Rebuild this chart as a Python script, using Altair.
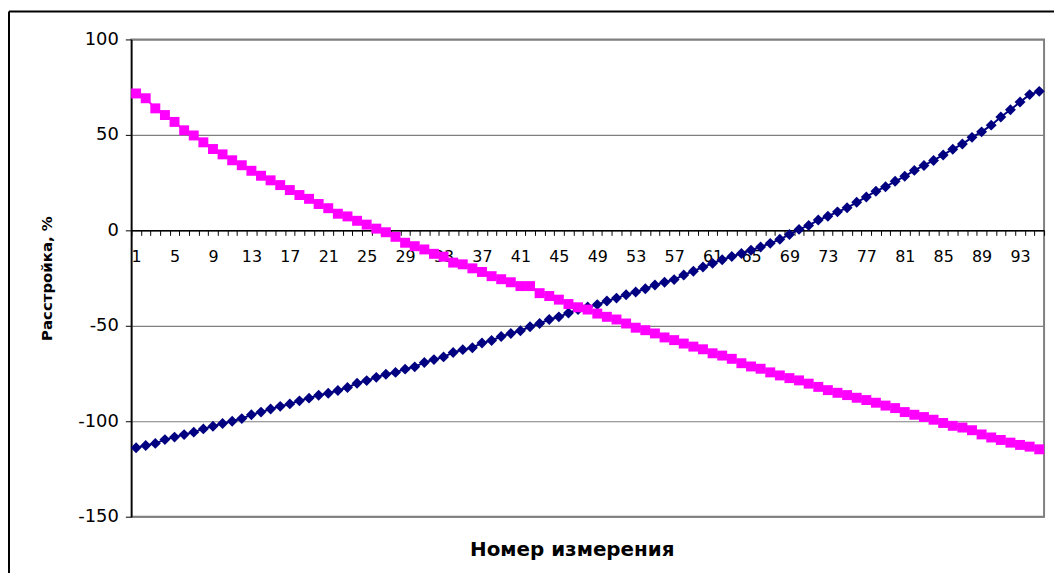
import altair as alt
import pandas as pd

n_idx = list(range(1, 96))

series_a = [-113.9, -112.7, -111.6, -109.6, -108.3, -107.0, -105.7, -104.0, -102.6, -101.2,
            -100.0, -98.6, -96.6, -95.2, -93.6, -92.2, -90.9, -89.3, -87.9, -86.4,
            -85.3, -83.9, -82.3, -80.1, -78.7, -77.0, -75.4, -74.4, -72.7, -71.5,
            -69.2, -67.7, -66.3, -64.0, -62.5, -61.5, -59.0, -57.7, -55.6, -54.0,
            -52.6, -50.5, -48.8, -46.7, -45.3, -43.3, -41.5, -40.1, -38.9, -37.0,
            -35.5, -33.7, -32.3, -30.6, -28.6, -27.2, -25.8, -23.4, -21.4, -19.2,
            -17.3, -15.4, -13.7, -12.1, -10.4, -8.7, -6.8, -4.7, -2.2, 0.5,
            2.6, 5.4, 7.4, 9.7, 11.8, 14.7, 17.5, 20.5, 22.8, 25.7,
            28.3, 31.4, 34.0, 36.6, 39.5, 42.5, 45.2, 48.7, 51.6, 55.1,
            59.4, 63.2, 67.2, 71.1, 72.8]

series_b = [71.7, 69.2, 63.9, 60.4, 56.8, 52.4, 49.7, 46.1, 42.6, 39.8,
            36.7, 34.1, 31.2, 28.6, 26.2, 23.7, 21.1, 18.5, 16.5, 13.8,
            11.6, 8.7, 7.3, 5.0, 3.0, 0.9, -1.0, -3.4, -6.5, -8.3,
            -10.0, -12.3, -13.8, -16.9, -17.8, -19.9, -21.8, -24.0, -25.6, -27.2,
            -29.2, -29.2, -32.9, -34.4, -36.3, -38.6, -40.3, -41.5, -43.6, -45.3,
            -46.7, -48.8, -51.0, -52.3, -54.0, -56.1, -57.5, -59.3, -60.9, -62.3,
            -64.4, -65.6, -67.3, -69.6, -71.3, -72.5, -74.4, -76.0, -77.4, -78.6,
            -80.3, -82.0, -83.7, -85.1, -86.3, -87.7, -88.9, -90.3, -91.8, -93.1,
            -95.2, -96.6, -97.8, -99.2, -100.9, -102.4, -103.3, -104.7, -106.9, -108.5,
            -109.8, -111.2, -112.4, -113.3, -114.7]

y_ticks = [-150, -100, -50, 0, 50, 100]
x_boundaries = [i + 0.5 for i in range(96)]

W, H = 918, 480
ZERO_PX = H * 100 / 250  # pixel row of value 0, used for axis offset

df_a = pd.DataFrame({"n": n_idx, "v": series_a})
df_b = pd.DataFrame({"n": n_idx, "v": series_b})

x_enc = alt.X(
    "n:Q",
    scale=alt.Scale(domain=[0.5, 95.5], nice=False, zero=False),
    axis=alt.Axis(
        values=x_boundaries,
        tickCount=500,
        labelExpr="(datum.value - 0.5) % 4 == 0 ? format(datum.value + 0.5, 'd') : ''",
        labelOffset=W / 95 / 2,
        labelAlign="center",
        labelFlush=False,
        labelBound=False,
        labelOverlap=False,
        labelFontSize=16,
        labelColor="black",
        labelPadding=13,
        tickSize=5,
        tickColor="black",
        tickWidth=1,
        domainColor="black",
        domainWidth=1.5,
        grid=False,
        offset=-(H - ZERO_PX),
        title="Номер измерения",
        titleFontSize=20,
        titleFontWeight="bold",
        titleColor="black",
        titlePadding=277,
        titleX=443,
    ),
)

y_enc = alt.Y(
    "v:Q",
    scale=alt.Scale(domain=[-150, 100], nice=False, zero=False),
    axis=alt.Axis(
        values=y_ticks,
        tickCount=50,
        labelExpr="'' + datum.value",
        grid=True,
        gridColor="#7f7f7f",
        gridWidth=1.2,
        labelFontSize=18,
        labelColor="black",
        labelPadding=7,
        tickSize=6,
        tickColor="black",
        domainColor="black",
        domainWidth=1.5,
        title="Расстройка, %",
        titleFontSize=15,
        titleFontWeight="bold",
        titleColor="black",
        titlePadding=23,
    ),
)

line_a = alt.Chart(df_a).mark_line(
    color="#000080", strokeWidth=2,
    point=alt.OverlayMarkDef(shape="diamond", size=120, filled=True, color="#000080", opacity=1),
).encode(x=x_enc, y=y_enc)

line_b = alt.Chart(df_b).mark_line(
    color="#ff00ff", strokeWidth=2,
    point=alt.OverlayMarkDef(shape="square", size=100, filled=True, color="#ff00ff", opacity=1),
).encode(x=alt.X("n:Q"), y=alt.Y("v:Q"))

one = alt.Data(values=[{"k": 1}])
frame_left = alt.Chart(one).mark_rule(color="black", strokeWidth=2).encode(
    x=alt.value(-123), y=alt.value(-28), y2=alt.value(600)
)
frame_top = alt.Chart(one).mark_rule(color="black", strokeWidth=2).encode(
    x=alt.value(-123), x2=alt.value(940), y=alt.value(-28)
)

chart = alt.layer(line_a, line_b, frame_left, frame_top).properties(
    width=W,
    height=H,
    autosize=alt.AutoSizeParams(type="none"),
    padding={"left": 124, "top": 30, "right": 10, "bottom": 55},
).configure(
    font="DejaVu Sans",
    background="white",
).configure_view(
    stroke="#808080",
    strokeWidth=2,
)

chart.save("out.html", embed_options={"renderer": "svg", "actions": False})
